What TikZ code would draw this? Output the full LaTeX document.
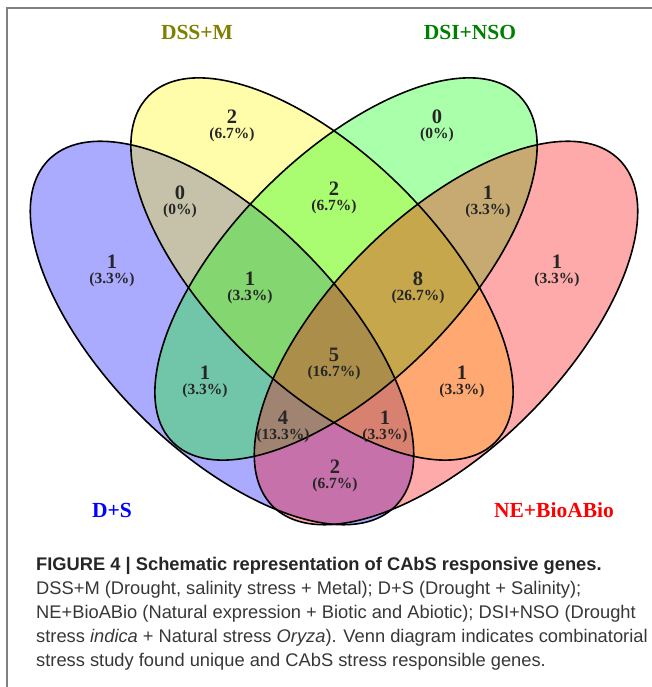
\documentclass[tikz,border=0pt]{standalone}
\usepackage{fontspec}
\setmainfont{Liberation Serif}
\newfontfamily\capfont{Liberation Sans}

\definecolor{vblue}{RGB}{0,0,255}
\definecolor{vyellow}{RGB}{255,245,0}
\definecolor{vgreen}{RGB}{0,255,0}
\definecolor{vred}{RGB}{255,0,0}
\definecolor{volive}{RGB}{128,128,0}
\definecolor{vdgreen}{RGB}{0,128,0}
\definecolor{captext}{RGB}{55,55,55}

\tikzset{
  cnt/.style={font=\fontsize{20.5}{20.5}\selectfont\bfseries, text=black!85, inner sep=0pt},
  pct/.style={font=\fontsize{15.5}{15.5}\selectfont\bfseries, text=black!85, inner sep=0pt},
  setname/.style={font=\fontsize{21.5}{21.5}\selectfont\bfseries, inner sep=0pt},
  capline/.style={anchor=west, inner sep=0pt, text=captext, font=\capfont\fontsize{18.3}{18.3}\selectfont}
}

\begin{document}
\begin{tikzpicture}[x=1pt,y=1pt]
\useasboundingbox (0,0) rectangle (652,687);
\draw[gray, line width=1.5] (7,0) -- (7,679) -- (652,679);
% centres of the four sets
\coordinate (cB) at (222,354);
\coordinate (cY) at (322,418);
\coordinate (cG) at (346,418);
\coordinate (cP) at (446,354);
\foreach \c/\col/\ang/\a/\b in {cB/vblue/135/245/116, cY/vyellow/135/245/114, cG/vgreen/45/245/114, cP/vred/45/245/116} {
    \fill[\col, fill opacity=0.333, rotate around={\ang:(\c)}] (\c) ellipse [x radius=\a, y radius=\b];
}
\foreach \c/\ang/\a/\b in {cB/135/245/116, cY/135/245/114, cG/45/245/114, cP/45/245/116} {
    \draw[line width=1.6, rotate around={\ang:(\c)}] (\c) ellipse [x radius=\a, y radius=\b];
}
% region counts
\foreach \n/\x/\y/\k/\p in {b/112/425/1/3.3, y/232/570/2/6.7, g/437/570/0/0, p/557/425/1/3.3,
    by/180/494/0/0, yg/334/498/2/6.7, gp/488/494/1/3.3, byg/250/408/1/3.3, ygp/418/408/8/26.7,
    bg/205/314/1/3.3, yp/462/314/1/3.3, all/334/332/5/16.7, bgp/283/269/4/13.3, byp/385/269/1/3.3,
    bp/335/220/2/6.7} {
    \node[cnt] (n\n) at (\x,\y) {\k};
    \node[pct] (p\n) at (\x,\y-18) {(\p\%)};
}
% set names
\node[setname, text=volive] (lY) at (197,655) {DSS+M};
\node[setname, text=vdgreen] (lG) at (470,655) {DSI+NSO};
\node[setname, text=vblue] (lB) at (112,177) {D+S};
\node[setname, text=vred] (lP) at (554,177) {NE+BioABio};
% caption
\node[capline, font=\capfont\bfseries\fontsize{18.3}{18.3}\selectfont, text=black!85] (cap1) at (36,121) {FIGURE 4 | Schematic representation of CAbS responsive genes.};
\node[capline] (cap2) at (36,97) {DSS+M (Drought, salinity stress + Metal); D+S (Drought + Salinity);};
\node[capline] (cap3) at (36,73) {NE+BioABio (Natural expression + Biotic and Abiotic); DSI+NSO (Drought};
\node[capline] (cap4) at (36,49) {stress \textit{indica} + Natural stress \textit{Oryza}). Venn diagram indicates combinatorial};
\node[capline] (cap5) at (36,25) {stress study found unique and CAbS stress responsible genes.};
\end{tikzpicture}
\end{document}
